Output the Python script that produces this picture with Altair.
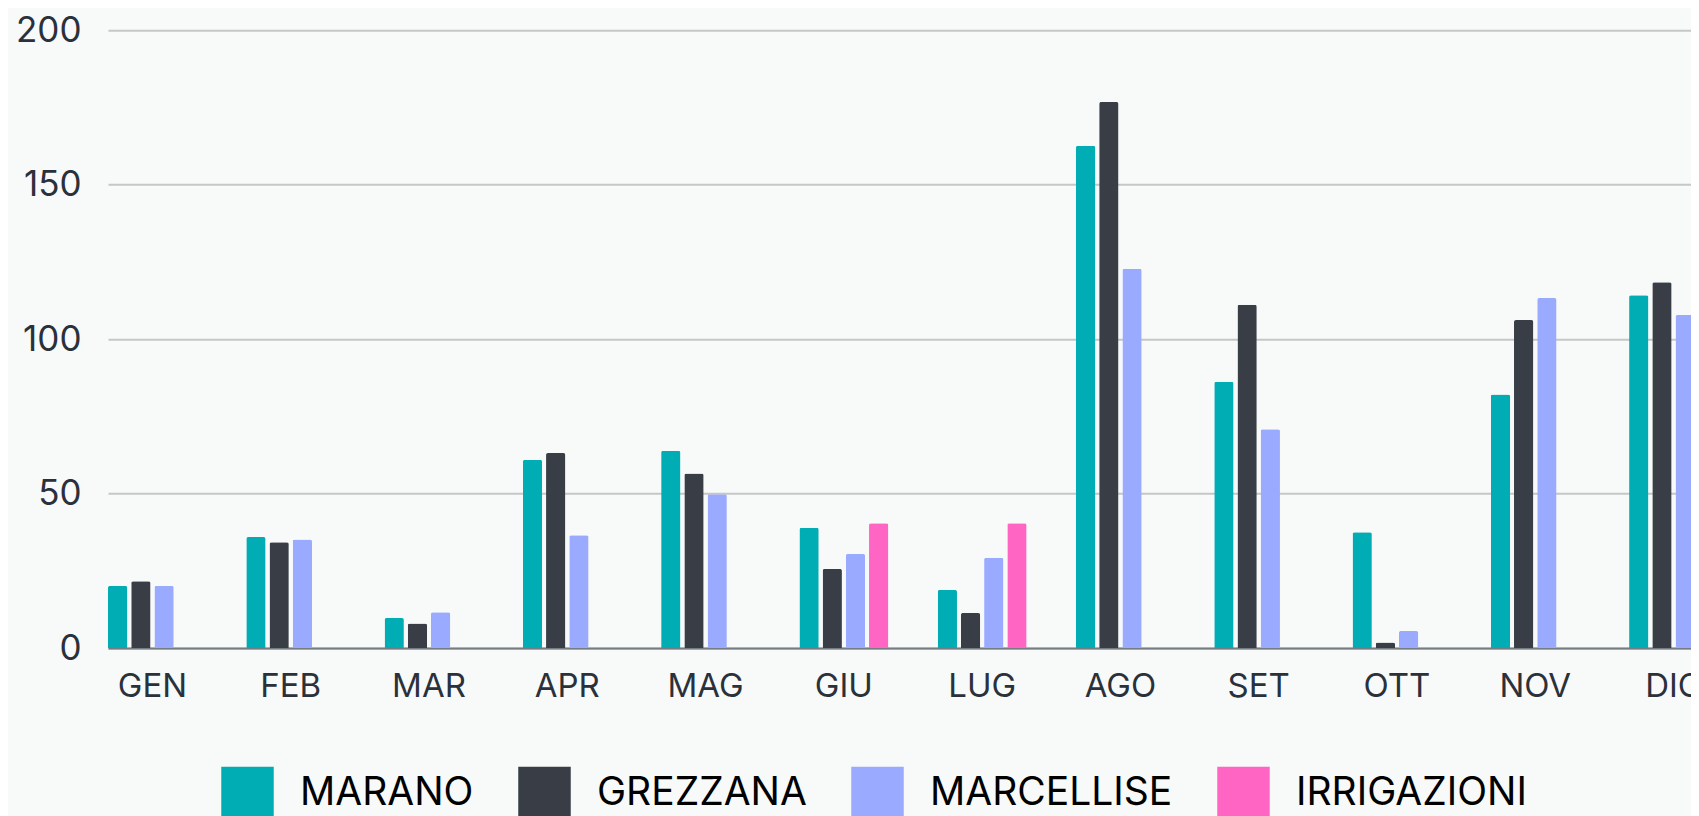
import altair as alt
import pandas as pd

months = ["GEN", "FEB", "MAR", "APR", "MAG", "GIU", "LUG", "AGO", "SET", "OTT", "NOV", "DIC"]
series = ["MARANO", "GREZZANA", "MARCELLISE", "IRRIGAZIONI"]
colors = ["#00adb5", "#393e46", "#99aaff", "#ff66c4"]

marano = [20.1, 35.9, 9.7, 60.9, 63.9, 38.9, 18.8, 162.6, 86.2, 37.5, 82.1, 114.2]
grezzana = [21.6, 34.2, 7.9, 63.1, 56.5, 25.6, 11.3, 176.8, 111.1, 1.8, 106.2, 118.4]
marcellise = [20.1, 35.1, 11.6, 36.5, 49.8, 30.4, 29.2, 122.8, 70.8, 5.5, 113.3, 107.8]
irrigazioni = [None, None, None, None, None, 40.4, 40.4, None, None, None, None, None]

rows = []
for name, vals in zip(series, [marano, grezzana, marcellise, irrigazioni]):
    for m, v in zip(months, vals):
        if v is not None:
            rows.append({"mese": m, "serie": name, "valore": v})
df = pd.DataFrame(rows)

FONT = "Inter"
TXT = "#2b313b"

chart = alt.Chart(df).mark_bar(
    cornerRadiusTopLeft=2, cornerRadiusTopRight=2
).encode(
    x=alt.X(
        "mese:N", sort=months,
        scale=alt.Scale(paddingInner=0.357, paddingOuter=0, range=[0, 1610]),
        axis=alt.Axis(
            title=None, labelAngle=0, labelFont=FONT, labelFontSize=33,
            labelColor=TXT, ticks=False, tickSize=0, labelPadding=22,
            domainColor="#767b80", domainWidth=2, grid=False,
        ),
    ),
    xOffset=alt.XOffset("serie:N", sort=series,
                        scale=alt.Scale(domain=series, paddingInner=0.168)),
    y=alt.Y(
        "valore:Q",
        scale=alt.Scale(domain=[0, 200]),
        axis=alt.Axis(
            title=None, values=[0, 50, 100, 150, 200], labelFont=FONT,
            labelFontSize=35, labelColor=TXT, ticks=False, tickSize=0,
            labelPadding=27, domain=False, grid=True, gridColor="#c4c6c8",
            gridWidth=2,
        ),
    ),
    color=alt.Color(
        "serie:N",
        scale=alt.Scale(domain=series, range=colors),
        legend=alt.Legend(
            title=None, orient="none", legendX=113, legendY=736,
            direction="horizontal", symbolType="square", symbolSize=2756,
            symbolStrokeWidth=0, symbolOpacity=1, labelFont=FONT,
            labelFontSize=39, labelColor="#000000", labelOffset=26,
            columnPadding=44, padding=0, labelLimit=600,
        ),
    ),
).properties(
    width=1583,
    height=617.7,
    padding={"left": 100, "top": 22.3, "right": 0, "bottom": 180},
    autosize=alt.AutoSizeParams(type="none"),
    background="#f8fafa",
).configure_view(stroke=None)

chart.save("out.html", embed_options={"renderer": "svg", "actions": False})
